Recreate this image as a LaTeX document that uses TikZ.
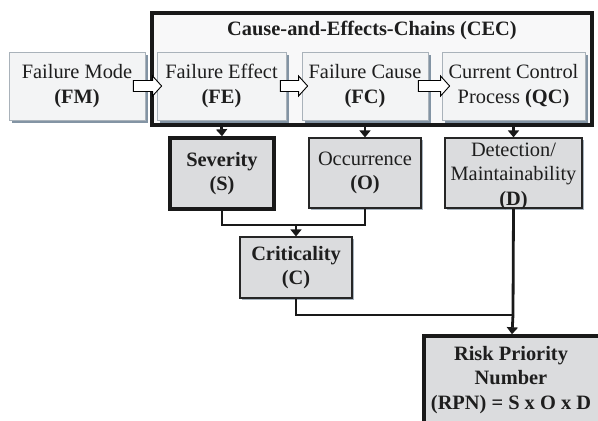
\documentclass[tikz,border=0pt]{standalone}
\usepackage{fontspec}
\setmainfont{Liberation Serif}
\usetikzlibrary{calc,arrows.meta,shadows}
\definecolor{topfill}{HTML}{F3F4F5}
\definecolor{topdraw}{HTML}{A9B2BA}
\definecolor{midfill}{HTML}{DBDCDE}
\definecolor{shadowc}{HTML}{8394A4}
\definecolor{txt}{HTML}{1E1E1E}
\begin{document}
\begin{tikzpicture}[x=1pt,y=-1pt,
  every node/.style={font=\fontsize{20.4}{24.5}\selectfont, text=txt, align=center, inner sep=0pt},
  topbox/.style={draw=topdraw, line width=0.8pt, fill=topfill,
    drop shadow={shadow xshift=3pt, shadow yshift=-3pt, fill=shadowc, opacity=1}},
  midbox/.style={draw=black!85, line width=1.2pt, fill=midfill,
    drop shadow={shadow xshift=2pt, shadow yshift=-2pt, fill=shadowc!70, opacity=1}},
  thickbox/.style={draw=black!90, line width=3.5pt, fill=midfill},
  conn/.style={draw=black!90, line width=2.8pt},
  dnarrow/.style={conn, -{Triangle[length=7pt,width=11pt]}},
  barrow/.style={draw=black, line width=0.9pt, fill=white, line join=miter}
]
\useasboundingbox (0,0) rectangle (598,421);
% CEC frame
\node[draw=black!90, line width=3.8pt, fill=topfill!60!white, minimum width=440pt, minimum height=112pt] (cec) at (372,69) {};
\node[font=\fontsize{20.4}{24}\selectfont\bfseries] (cectitle) at (372,30) {Cause-and-Effects-Chains (CEC)};
% top row
\node[topbox, minimum width=136pt, minimum height=68pt] (fm) at (77,86) {Failure Mode\\\textbf{(FM)}};
\node[topbox, minimum width=129pt, minimum height=68pt] (fe) at (221.5,86) {Failure Effect\\\textbf{(FE)}};
\node[topbox, minimum width=126pt, minimum height=68pt] (fc) at (365,86) {Failure Cause\\\textbf{(FC)}};
\node[topbox, minimum width=143pt, minimum height=68pt] (qc) at (513.5,86) {Current Control\\Process \textbf{(QC)}};
% block arrows
\newcommand\blockarr[4]{%
  \draw[barrow] let \p1=($(#1.east)+(#3,0)$), \p2=($(#2.west)+(#4,0)$) in
    (\x1,\y1-5.5) -- (\x2-9,\y1-5.5) -- (\x2-9,\y1-10) -- (\x2,\y1) --
    (\x2-9,\y1+10) -- (\x2-9,\y1+5.5) -- (\x1,\y1+5.5) -- cycle;}
\blockarr{fm}{fe}{-12}{5}
\blockarr{fe}{fc}{-6}{6}
\blockarr{fc}{qc}{-10}{8}
% second row
\node[thickbox, minimum width=104pt, minimum height=71pt] (sev) at (222,173.5) {\textbf{Severity}\\\textbf{(S)}};
\node[midbox, minimum width=112pt, minimum height=70pt] (occ) at (365,173) {Occurrence\\\textbf{(O)}};
\node[midbox, minimum width=137pt, minimum height=70pt] (det) at (513.5,173) {};
\node (dettext) at (513.5,176) {Detection/\\Maintainability\\\textbf{(D)}};
\node[midbox, minimum width=112pt, minimum height=61pt] (crit) at (296,267.5) {\textbf{Criticality}\\\textbf{(C)}};
\node[thickbox, minimum width=176pt, minimum height=96pt] (rpn) at (512,384) {};
\node (rpntext) at (511,380) {\textbf{Risk Priority}\\\textbf{Number}\\\textbf{(RPN) = S x O x D}};
% connectors
\coordinate (jsc) at (296,225);
\coordinate (jcr) at (513,315);
\draw[dnarrow] (fe.south |- cec.south) -- (sev.north);
\draw[dnarrow] (fc.south |- cec.south) -- (occ.north);
\draw[dnarrow] (qc.south |- cec.south) -- (det.north);
\draw[conn] (sev.south) |- (jsc) -| (occ.south);
\draw[dnarrow] (jsc) -- (crit.north);
\draw[conn] (crit.south) |- (jcr);
\draw[conn] (det.south) -- (jcr);
\draw[dnarrow] (jcr) -- (rpn.north);
\end{tikzpicture}
\end{document}
